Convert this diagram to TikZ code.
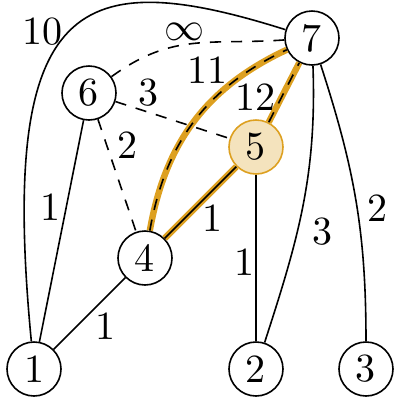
\documentclass[tikz,border=0pt]{standalone}
\definecolor{hl}{HTML}{DDA020}
\definecolor{hlfill}{HTML}{F4E3BD}
\begin{document}
\begin{tikzpicture}[x=0.25pt,y=-0.25pt,
  vert/.style={circle,draw,minimum size=13.5pt,inner sep=0pt},
  lbl/.style={inner sep=0pt},
  hlline/.style={draw=hl,line width=1.6pt},
  dsh/.style={dash pattern=on 2.8pt off 2.5pt},
]
\useasboundingbox (0,0) rectangle (394,398);
% vertices
\node[vert] (n7) at (312,38) {7};
\node[vert] (n6) at (89,93) {6};
\node[vert,draw=hl,fill=hlfill] (n5) at (256,147) {5};
\node[vert] (n4) at (145,258) {4};
\node[vert] (n1) at (34,369) {1};
\node[vert] (n2) at (256,369) {2};
\node[vert] (n3) at (366,369) {3};
% highlighted edges
\draw[hlline] (n4) to[out=80,in=205] (n7);
\draw[dsh] (n4) to[out=80,in=205] (n7);
\draw[hlline] (n5) -- (n7);
\draw[dsh] (n5) -- (n7);
\draw[hlline] (n4) -- (n5);
\draw (n4) -- (n5);
% other edges
\draw (n1) .. controls (-2,-5) and (80,-35) .. (n7);
\draw[dsh] (n6) to[out=36,in=184,looseness=1.1] (n7);
\draw[dsh] (n6) -- (n5);
\draw[dsh] (n6) -- (n4);
\draw (n6) -- (n1);
\draw (n4) -- (n1);
\draw (n5) -- (n2);
\draw (n7) to[out=-88,in=72] (n2);
\draw (n7) to[out=-72,in=90] (n3);
% labels
\node[lbl] (l10) at (42,32) {10};
\node[lbl] (linf) at (185,32) {$\infty$};
\node[lbl] (l11) at (208,70) {11};
\node[lbl] (l63) at (148,93) {3};
\node[lbl] (l12) at (256,97) {12};
\node[lbl] (l62) at (128,145) {2};
\node[lbl] (l61) at (50,207) {1};
\node[lbl] (l45) at (213,218) {1};
\node[lbl] (l72) at (323,232) {3};
\node[lbl] (l73) at (378,208) {2};
\node[lbl] (l52) at (245,262) {1};
\node[lbl] (l41) at (105,326) {1};
\end{tikzpicture}
\end{document}
